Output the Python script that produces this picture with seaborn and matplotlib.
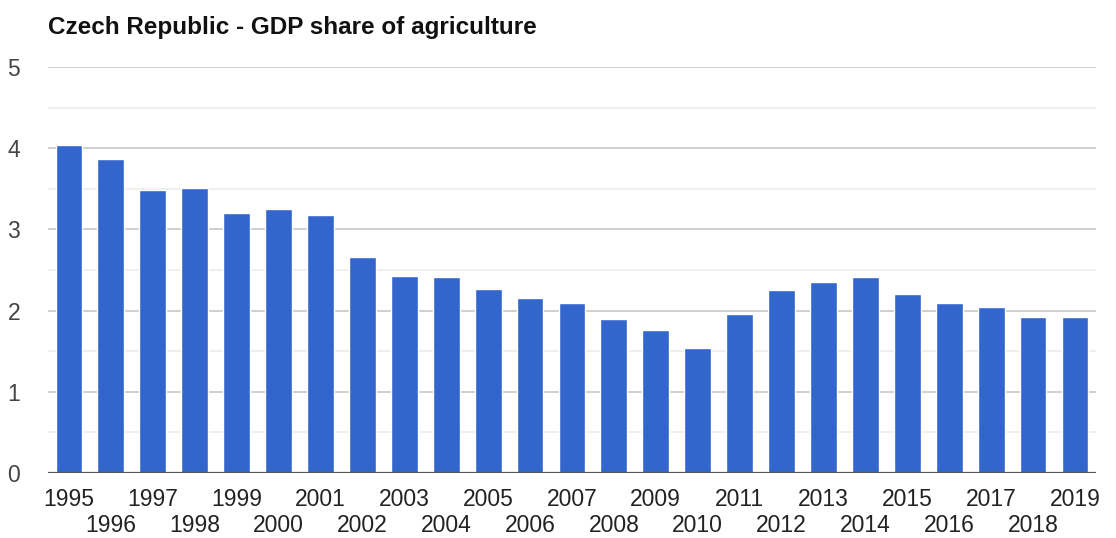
import matplotlib
matplotlib.use("Agg")
import matplotlib.pyplot as plt
import seaborn as sns
import pandas as pd

years = [str(y) for y in range(1995, 2020)]
values = [4.04, 3.87, 3.49, 3.51, 3.20, 3.25, 3.18, 2.66, 2.43, 2.41, 2.27, 2.15,
          2.09, 1.90, 1.76, 1.54, 1.96, 2.25, 2.35, 2.41, 2.21, 2.09, 2.05, 1.92, 1.92]
title = "Czech Republic - GDP share of agriculture"
y_major = [0, 1, 2, 3, 4, 5]
y_minor = [0.5, 1.5, 2.5, 3.5, 4.5]

sns.set_theme(style="white")
plt.rcParams['font.family'] = ['Liberation Sans', 'DejaVu Sans']

df = pd.DataFrame({"year": years, "value": values})

fig = plt.figure(figsize=(11.16, 5.38), dpi=100)
ax = fig.add_axes([0.043, 0.1208, 0.939, 0.7547])

sns.barplot(data=df, x="year", y="value", color="#3366CC", saturation=1,
            width=0.64, ax=ax, zorder=3)

ax.set_ylim(0, 5)
ax.set_xlim(-0.5, len(years) - 0.5)
ax.set_yticks(y_major)
ax.set_yticks(y_minor, minor=True)
ax.grid(axis='y', which='major', color='#cccccc', linewidth=1.3, zorder=0)
ax.grid(axis='y', which='minor', color='#ebebeb', linewidth=1.1, zorder=0)
ax.axhline(0, color='#555555', linewidth=1.6, zorder=4)
for s in ax.spines.values():
    s.set_visible(False)

# two staggered rows of year labels: even on major ticks, odd on minor ticks
even_pos = list(range(0, len(years), 2))
odd_pos = list(range(1, len(years), 2))
ax.set_xticks(even_pos)
ax.set_xticklabels([years[i] for i in even_pos], fontsize=16.5, color='#222222')
ax.set_xticks(odd_pos, minor=True)
ax.set_xticklabels([years[i] for i in odd_pos], minor=True, fontsize=16.5, color='#222222')
ax.tick_params(axis='x', which='major', length=0, pad=11)
ax.tick_params(axis='x', which='minor', length=0, pad=29.5)
ax.set_yticklabels([str(v) for v in y_major], fontsize=16.5, color='#444444')
ax.tick_params(axis='y', length=0, pad=20)
ax.tick_params(axis='y', which='minor', length=0)
ax.set_xlabel("")
ax.set_ylabel("")

fig.text(0.043, 0.949, title, fontsize=17.5, fontweight='bold', color='#111111',
         ha='left', va='center')

fig.savefig("out.png", dpi=100)
